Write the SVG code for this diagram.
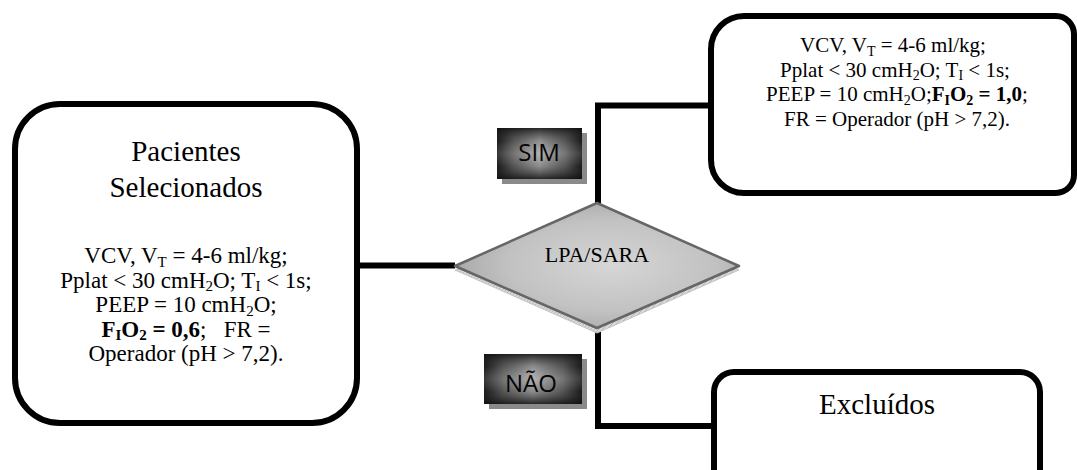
<svg xmlns="http://www.w3.org/2000/svg" width="1077" height="470" viewBox="0 0 1077 470">
  <defs>
    <radialGradient id="diamondFill" cx="55%" cy="50%" r="60%">
      <stop offset="0" stop-color="#d6d6d6"/>
      <stop offset="0.6" stop-color="#c2c2c2"/>
      <stop offset="1" stop-color="#a4a4a4"/>
    </radialGradient>
    <linearGradient id="bevelH" x1="0" y1="0" x2="1" y2="0">
      <stop offset="0" stop-color="#141414"/>
      <stop offset="0.2" stop-color="#5e5e5e"/>
      <stop offset="0.5" stop-color="#a4a4a4"/>
      <stop offset="0.8" stop-color="#5e5e5e"/>
      <stop offset="1" stop-color="#141414"/>
    </linearGradient>
    <linearGradient id="bevelV" x1="0" y1="0" x2="0" y2="1">
      <stop offset="0" stop-color="#111" stop-opacity="0.85"/>
      <stop offset="0.25" stop-color="#333" stop-opacity="0.2"/>
      <stop offset="0.5" stop-color="#fff" stop-opacity="0.15"/>
      <stop offset="0.75" stop-color="#333" stop-opacity="0.2"/>
      <stop offset="1" stop-color="#111" stop-opacity="0.85"/>
    </linearGradient>
    <pattern id="hatch" width="4" height="4" patternUnits="userSpaceOnUse">
      <rect width="4" height="4" fill="#d8d8d8"/>
      <path d="M0,4 L4,0" stroke="#b0b0b0" stroke-width="0.8"/>
    </pattern>
  </defs>
  <style>
    .box { fill: #ffffff; stroke: #000000; stroke-width: 6; }
    .wire { fill: none; stroke: #000000; stroke-width: 6; stroke-linecap: butt; }
    .serif { font-family: "Liberation Serif", "Times New Roman", serif; fill: #000000; text-anchor: middle; }
    .title { font-size: 29px; }
    .body { font-size: 23px; }
    .body2 { font-size: 21px; }
    .btnText { font-family: "Open Sans", "Liberation Sans", sans-serif; font-size: 24px; fill: #050505; text-anchor: middle; }
    .btnShadow { fill: #8a8a8a; }
  </style>

  <!-- connectors -->
  <g id="connectors">
    <path class="wire" d="M358,265.5 H455"/>
    <path class="wire" d="M598,204 V105.5 H711"/>
    <path class="wire" d="M598,328 V426 H714"/>
  </g>

  <!-- patient selection box -->
  <g id="node-pacientes">
    <rect class="box" x="15" y="104" width="342" height="319" rx="45" ry="45"/>
    <text class="serif title" x="186" y="161">Pacientes</text>
    <text class="serif title" x="186" y="197">Selecionados</text>
    <text class="serif body" x="186" y="263">VCV, V<tspan font-size="15" dy="3.5">T</tspan><tspan dy="-3.5"> = 4-6 ml/kg;</tspan></text>
    <text class="serif body" x="186" y="287.5">Pplat &lt; 30 cmH<tspan font-size="15" dy="3.5">2</tspan><tspan dy="-3.5">O; T</tspan><tspan font-size="15" dy="3.5">I</tspan><tspan dy="-3.5"> &lt; 1s;</tspan></text>
    <text class="serif body" x="186" y="312">PEEP = 10 cmH<tspan font-size="15" dy="3.5">2</tspan><tspan dy="-3.5">O;</tspan></text>
    <text class="serif body" x="186" y="336.5" xml:space="preserve"><tspan font-weight="bold">F</tspan><tspan font-weight="bold" font-size="15" dy="3.5">I</tspan><tspan font-weight="bold" dy="-3.5">O</tspan><tspan font-weight="bold" font-size="15" dy="3.5">2</tspan><tspan font-weight="bold" dy="-3.5"> = 0,6</tspan><tspan>;   FR =</tspan></text>
    <text class="serif body" x="186" y="361">Operador (pH &gt; 7,2).</text>
  </g>

  <!-- decision diamond -->
  <g id="node-decisao">
    <polygon points="455,270 597,207 739,270 597,333" fill="url(#hatch)" stroke="#c4c4c4" stroke-width="1"/>
    <polygon points="455,266 597,203 739,266 597,328" fill="url(#diamondFill)" stroke="#666666" stroke-width="2.5" stroke-linejoin="round"/>
    <text class="serif" x="597" y="262" font-size="22">LPA/SARA</text>
  </g>

  <!-- "yes" branch outcome -->
  <g id="node-sim-resultado">
    <path class="box" d="M744,16 H1056 A18,18 0 0 1 1074,34 V175 A18,18 0 0 1 1056,193 H744 A33,33 0 0 1 711,160 V49 A33,33 0 0 1 744,16 Z"/>
    <text class="serif body2" x="893" y="52">VCV, V<tspan font-size="14" dy="3.5">T</tspan><tspan dy="-3.5"> = 4-6 ml/kg;</tspan></text>
    <text class="serif body2" x="895" y="76.5">Pplat &lt; 30 cmH<tspan font-size="14" dy="3.5">2</tspan><tspan dy="-3.5">O; T</tspan><tspan font-size="14" dy="3.5">I</tspan><tspan dy="-3.5"> &lt; 1s;</tspan></text>
    <text class="serif body2" x="897" y="101">PEEP = 10 cmH<tspan font-size="14" dy="3.5">2</tspan><tspan dy="-3.5">O;</tspan><tspan font-weight="bold">F</tspan><tspan font-weight="bold" font-size="14" dy="3.5">I</tspan><tspan font-weight="bold" dy="-3.5">O</tspan><tspan font-weight="bold" font-size="14" dy="3.5">2</tspan><tspan font-weight="bold" dy="-3.5"> = 1,0</tspan><tspan>;</tspan></text>
    <text class="serif body2" x="897" y="125.5">FR = Operador (pH &gt; 7,2).</text>
  </g>

  <!-- "no" branch outcome -->
  <g id="node-excluidos">
    <path class="box" d="M714,510 V392 A20,20 0 0 1 734,372 H1020 A20,20 0 0 1 1040,392 V510"/>
    <text class="serif title" x="877" y="414">Excluídos</text>
  </g>

  <!-- branch labels -->
  <g id="label-sim">
    <rect class="btnShadow" x="502" y="133" width="85" height="51"/>
    <rect x="497" y="128" width="85" height="51" fill="url(#bevelH)"/>
    <rect x="497" y="128" width="85" height="51" fill="url(#bevelV)"/>
    <text class="btnText" x="539" y="161">SIM</text>
  </g>
  <g id="label-nao">
    <rect class="btnShadow" x="489" y="359" width="98" height="50"/>
    <rect x="484" y="354" width="98" height="50" fill="url(#bevelH)"/>
    <rect x="484" y="354" width="98" height="50" fill="url(#bevelV)"/>
    <text class="btnText" x="531" y="392">NÃO</text>
  </g>
</svg>
